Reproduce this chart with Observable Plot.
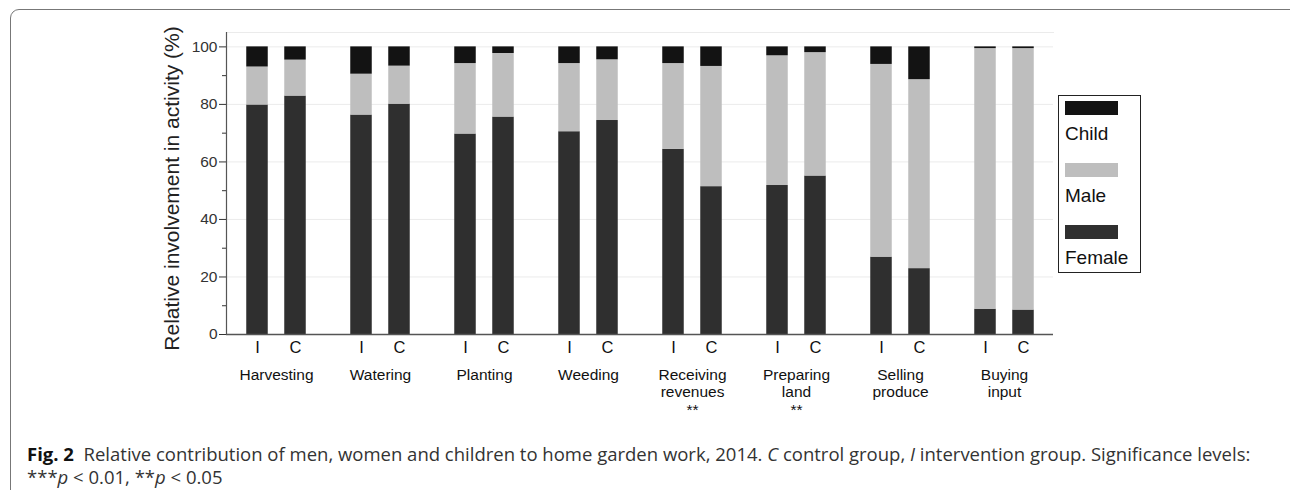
<!DOCTYPE html>
<html>
<head>
<meta charset="utf-8">
<script src="https://cdn.jsdelivr.net/npm/d3@7"></script>
<script src="https://cdn.jsdelivr.net/npm/@observablehq/plot@0.6"></script>
<style>
  html, body { margin: 0; padding: 0; background: #fff; width: 1290px; height: 490px; overflow: hidden; }
  #wrap { position: relative; width: 1290px; height: 490px; }
  #border { position: absolute; left: 10px; top: 8.5px; width: 1320px; height: 520px; border: 1.5px solid #777; border-radius: 9px; box-sizing: border-box; }
  #chart { position: absolute; left: 0; top: 0; }
  #legend { position: absolute; left: 1058px; top: 95px; width: 83px; height: 178px; border: 1px solid #222; box-sizing: border-box; font-family: "Liberation Sans", Arial, sans-serif; font-size: 19px; color: #111; }
  .sw { position: absolute; left: 6px; width: 53px; height: 14px; }
  .lt { position: absolute; left: 6px; line-height: 20px; }
  #caption { position: absolute; left: 27px; top: 442px; font-family: "Open Sans", sans-serif; font-size: 18.5px; line-height: 23px; color: #333; white-space: nowrap; }
  #caption b { color: #111; }
</style>
</head>
<body>
<div id="wrap">
  <div id="border"></div>
  <div id="chart"></div>
  <div id="legend"></div>
  <div id="caption"></div>
</div>
<script>
const activities = ["Harvesting", "Watering", "Planting", "Weeding", "Receiving revenues", "Preparing land", "Selling produce", "Buying input"];
const activityLabels = ["Harvesting", "Watering", "Planting", "Weeding", "Receiving\nrevenues\n**", "Preparing\nland\n**", "Selling\nproduce", "Buying\ninput"];
const groups = ["I", "C"];
const roles = ["Female", "Male", "Child"];
const roleColors = ["#2f2f2f", "#bebebe", "#131313"];
const femaleI = [79.8, 76.3, 69.7, 70.5, 64.4, 51.8, 26.9, 8.8];
const femaleC = [82.9, 80.1, 75.6, 74.4, 51.4, 55.1, 22.9, 8.5];
const maleI = [13.2, 14.2, 24.5, 23.7, 29.8, 45.1, 67.0, 90.6];
const maleC = [12.5, 13.2, 22.1, 21.1, 41.8, 42.9, 65.7, 90.9];
const childI = [7.0, 9.5, 5.8, 5.8, 5.8, 3.1, 6.1, 0.6];
const childC = [4.6, 6.7, 2.3, 4.5, 6.8, 2.0, 11.4, 0.6];
const yTicks = [0, 20, 40, 60, 80, 100];
const yMinorTicks = [10, 30, 50, 70, 90];
const yLabel = "Relative involvement in activity (%)";

function buildRows(group, f, m, c) {
  const rows = [];
  activities.forEach((a, i) => {
    rows.push({activity: a, group, role: roles[0], value: f[i]});
    rows.push({activity: a, group, role: roles[1], value: m[i]});
    rows.push({activity: a, group, role: roles[2], value: c[i]});
  });
  return rows;
}
const rowsI = buildRows(groups[0], femaleI, maleI, childI);
const rowsC = buildRows(groups[1], femaleC, maleC, childC);

const off = 19;
const inset = 41.25;

const chart = Plot.plot({
  width: 1290,
  height: 425,
  marginLeft: 226,
  marginRight: 237,
  marginTop: 32,
  marginBottom: 91,
  style: {fontFamily: "'Liberation Sans', Arial, sans-serif", fontSize: "15px", color: "#222", background: "transparent"},
  x: {domain: activities, range: [222, 1058], padding: 0},
  y: {domain: [0, 105]},
  color: {domain: roles, range: roleColors},
  marks: [
    Plot.gridY(yTicks, {stroke: "#ebebeb", strokeOpacity: 1}),
    Plot.frame({anchor: "top", stroke: "#ebebeb"}),
    Plot.barY(rowsI, Plot.stackY({x: "activity", y: "value", fill: "role", dx: -off, insetLeft: inset, insetRight: inset})),
    Plot.barY(rowsC, Plot.stackY({x: "activity", y: "value", fill: "role", dx: off, insetLeft: inset, insetRight: inset})),
    Plot.ruleY([0], {stroke: "#555", strokeWidth: 1.5}),
    Plot.frame({anchor: "left", stroke: "#555", strokeWidth: 1.2}),
    Plot.axisY(yTicks, {tickSize: 7, tickPadding: 2, fontSize: 15.5, label: null, color: "#333"}),
    Plot.axisY(yMinorTicks, {tickSize: 4, tickFormat: () => "", label: null, color: "#333"}),
    Plot.axisX({tickSize: 0, tickPadding: 33, fontSize: 15.5, lineHeight: 1.12, label: null, color: "#111",
      tickFormat: d => activityLabels[activities.indexOf(d)]}),
    Plot.text(activities, {x: d => d, text: () => groups[0], frameAnchor: "bottom", dx: -off, dy: 18, fontSize: 16.5, fill: "#111"}),
    Plot.text(activities, {x: d => d, text: () => groups[1], frameAnchor: "bottom", dx: off, dy: 18, fontSize: 16.5, fill: "#111"}),
    Plot.text([yLabel], {frameAnchor: "left", textAnchor: "middle", rotate: -90, dx: -54, dy: 5, fontSize: 21, fill: "#222"})
  ]
});
document.getElementById("chart").appendChild(chart);

// legend (top to bottom: Child, Male, Female)
const legend = document.getElementById("legend");
const order = [2, 1, 0];
order.forEach((k, j) => {
  const sw = document.createElement("div");
  sw.className = "sw";
  sw.style.top = (5 + j * 62) + "px";
  sw.style.background = roleColors[k];
  legend.appendChild(sw);
  const t = document.createElement("div");
  t.className = "lt";
  t.style.top = (28 + j * 62) + "px";
  t.textContent = roles[k];
  legend.appendChild(t);
});

document.getElementById("caption").innerHTML =
  "<b>Fig. 2</b>&nbsp; Relative contribution of men, women and children to home garden work, 2014. <i>C</i> control group, <i>I</i> intervention group. Significance levels:<br>***<i>p</i> &lt; 0.01, **<i>p</i> &lt; 0.05";
</script>
</body>
</html>
